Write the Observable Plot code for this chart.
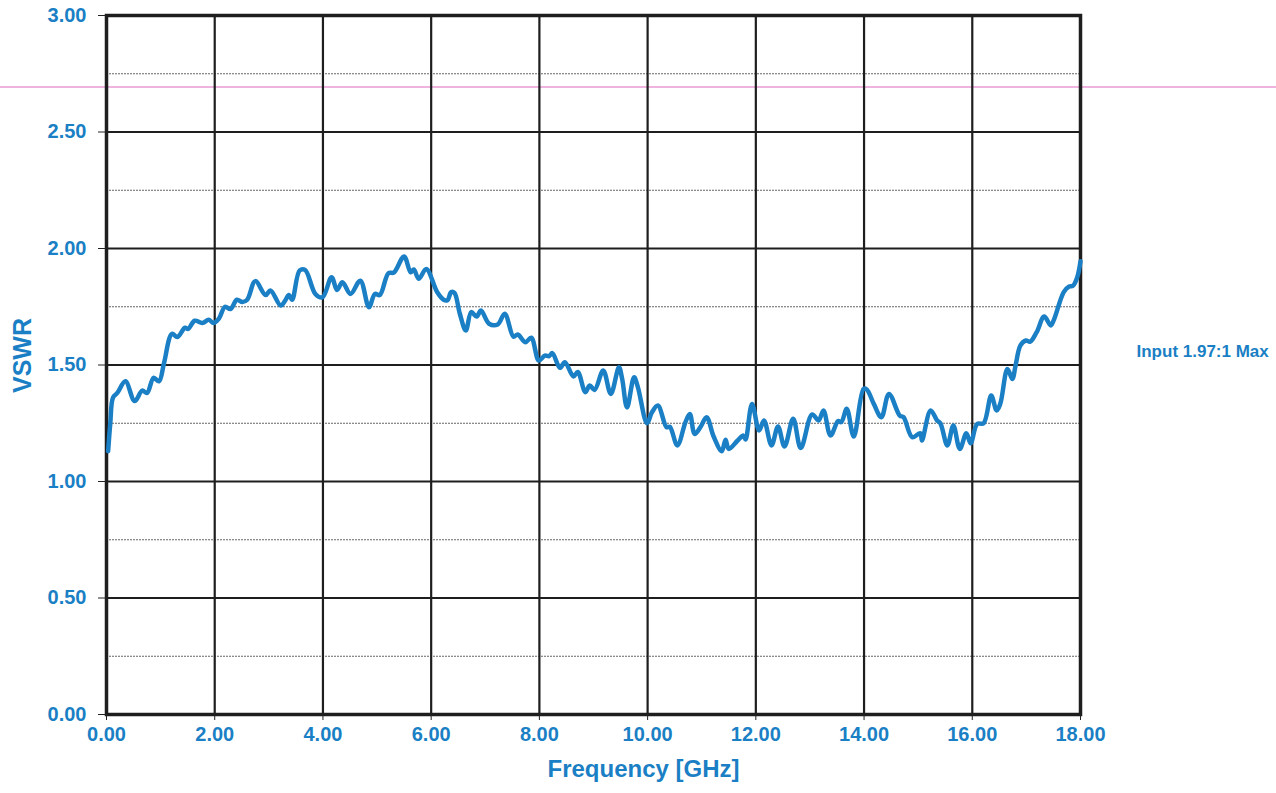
<!DOCTYPE html>
<html><head><meta charset="utf-8">
<script src="https://cdn.jsdelivr.net/npm/d3@7"></script>
<script src="https://cdn.jsdelivr.net/npm/@observablehq/plot@0.6"></script>
<style>
html,body{margin:0;padding:0;background:#fff;}
#wrap{position:relative;width:1276px;height:793px;overflow:hidden;}
#pink{position:absolute;left:0;top:86px;width:1276px;height:1.5px;background:#efb3df;}
</style></head>
<body><div id="wrap"><div id="pink"></div></div>
<script>
const freq = [0.03,0.07,0.12,0.20,0.35,0.52,0.66,0.75,0.87,0.97,1.06,1.21,1.31,1.45,1.51,1.63,1.77,1.89,1.98,2.08,2.19,2.29,2.41,2.51,2.60,2.75,2.94,3.03,3.22,3.31,3.37,3.43,3.57,3.67,3.86,3.99,4.16,4.26,4.36,4.51,4.69,4.85,4.96,5.05,5.21,5.31,5.50,5.62,5.68,5.77,5.91,6.11,6.23,6.30,6.37,6.43,6.53,6.64,6.74,6.84,6.92,7.07,7.23,7.36,7.52,7.60,7.74,7.85,7.99,8.10,8.18,8.24,8.38,8.47,8.63,8.71,8.85,8.93,9.02,9.18,9.32,9.47,9.53,9.62,9.75,9.82,9.99,10.08,10.19,10.35,10.41,10.55,10.70,10.78,10.87,10.98,11.09,11.22,11.37,11.44,11.50,11.66,11.77,11.81,11.93,12.06,12.15,12.29,12.41,12.53,12.69,12.83,13.04,13.16,13.25,13.38,13.52,13.58,13.68,13.81,13.99,14.05,14.18,14.32,14.46,14.66,14.73,14.89,15.04,15.07,15.23,15.35,15.41,15.54,15.65,15.77,15.89,15.97,16.09,16.21,16.35,16.45,16.52,16.65,16.74,16.80,16.89,16.99,17.07,17.19,17.33,17.45,17.51,17.69,17.79,17.86,17.94,18.00];
const vswr = [1.13,1.25,1.36,1.38,1.43,1.345,1.39,1.38,1.445,1.43,1.505,1.634,1.62,1.66,1.655,1.69,1.68,1.694,1.68,1.70,1.75,1.74,1.78,1.77,1.78,1.86,1.80,1.82,1.755,1.78,1.80,1.78,1.906,1.908,1.805,1.79,1.877,1.822,1.855,1.805,1.862,1.748,1.805,1.80,1.894,1.897,1.966,1.898,1.91,1.87,1.912,1.813,1.78,1.778,1.813,1.81,1.72,1.648,1.727,1.708,1.734,1.677,1.674,1.72,1.622,1.631,1.598,1.617,1.519,1.54,1.538,1.551,1.488,1.512,1.451,1.47,1.383,1.412,1.393,1.476,1.376,1.49,1.44,1.318,1.447,1.405,1.25,1.297,1.326,1.233,1.235,1.155,1.255,1.29,1.204,1.235,1.276,1.193,1.13,1.179,1.14,1.175,1.197,1.18,1.333,1.219,1.262,1.155,1.236,1.15,1.269,1.144,1.288,1.262,1.305,1.197,1.259,1.255,1.312,1.193,1.397,1.395,1.333,1.276,1.376,1.283,1.276,1.19,1.207,1.176,1.305,1.262,1.25,1.155,1.24,1.14,1.207,1.164,1.247,1.25,1.369,1.305,1.336,1.483,1.44,1.498,1.584,1.605,1.60,1.641,1.708,1.67,1.695,1.813,1.837,1.84,1.877,1.945];
const xTicks = [0,2,4,6,8,10,12,14,16,18];
const yMajor = [0,0.5,1.0,1.5,2.0,2.5,3.0];
const yMinor = [0.25,0.75,1.25,1.75,2.25,2.75];
const xLabel = "Frequency [GHz]";
const yLabel = "VSWR";
const note = "Input 1.97:1 Max";

const blue = "#1a7fc4";
const data = freq.map((f,i)=>({f, v: vswr[i]}));
const fmt = d3.format(".2f");

const chart = Plot.plot({
  width: 1276, height: 793,
  marginLeft: 106, marginRight: 196, marginTop: 15, marginBottom: 79,
  style: {fontFamily: "'Liberation Sans', Arial, sans-serif", fontWeight: "bold", background: "transparent"},
  x: {domain: [0,18]},
  y: {domain: [0,3]},
  marks: [
    Plot.ruleY(yMinor, {stroke: "#666", strokeWidth: 1, strokeDasharray: "2,1"}),
    Plot.ruleY(yMajor, {stroke: "#1e1e1e", strokeWidth: 2.2}),
    Plot.ruleX(xTicks, {stroke: "#1e1e1e", strokeWidth: 2.2}),
    Plot.frame({stroke: "#1e1e1e", strokeWidth: 3.5}),
    Plot.axisY({ticks: yMajor, tickFormat: fmt, tickSize: 8, tickPadding: 12, fontSize: 20, fill: blue, stroke: "#222", label: null}),
    Plot.axisX({ticks: xTicks, tickFormat: fmt, tickSize: 6, tickPadding: 6, fontSize: 20, fill: blue, stroke: "#222", label: null}),
    Plot.line(data, {x: "f", y: "v", stroke: blue, strokeWidth: 4.5, curve: "catmull-rom"}),
    Plot.text([yLabel], {text: d=>d, frameAnchor: "left", rotate: -90, dx: -84, dy: 28, fontSize: 25, fill: blue}),
    Plot.text([xLabel], {text: d=>d, frameAnchor: "bottom", dx: 50, dy: 62, fontSize: 24, fill: blue}),
    Plot.text([note], {text: d=>d, frameAnchor: "right", textAnchor: "start", dx: 56, dy: -13, fontSize: 17, fill: blue})
  ]
});
chart.style.position = "absolute";
chart.style.left = "0";
chart.style.top = "0";
document.getElementById("wrap").appendChild(chart);
</script>
</body></html>
